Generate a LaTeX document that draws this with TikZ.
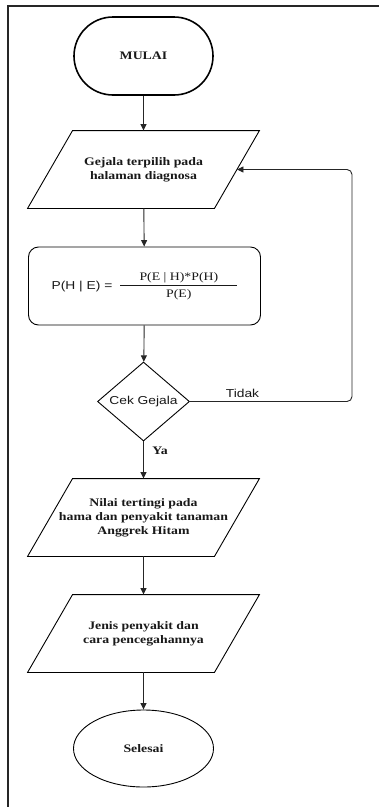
\documentclass[tikz,border=0pt]{standalone}
\usepackage{fontspec}
\setmainfont{Liberation Serif}[FakeStretch=1.2]
\newfontfamily\sansf{Liberation Sans}[FakeStretch=1.2]
\usetikzlibrary{shapes.geometric,arrows.meta}
\tikzset{
  base/.style={draw=black, line width=0.9pt, text=black!90, inner sep=0pt, align=center,
    font=\fontsize{11.5}{14}\selectfont\bfseries},
  terminal/.style={base, rectangle, rounded corners=39pt, minimum width=139pt, minimum height=78pt, line width=1.6pt},
  io/.style={base, draw=none, rectangle, minimum width=231pt, minimum height=77pt},
  ioline/.style={draw=black, line width=0.9pt, line join=miter},
  process/.style={base, rectangle, rounded corners=10pt, minimum width=232pt, minimum height=78pt,
    font=\fontsize{11.5}{14}\selectfont},
  decision/.style={base, diamond, minimum width=92pt, minimum height=77pt,
    font=\fontsize{11.5}{14}\selectfont\sansf},
  endnode/.style={base, ellipse, minimum width=140pt, minimum height=77pt},
  arrow/.style={draw=black!85, line width=0.9pt, -{Triangle[length=6.5pt,width=6pt]}},
  frameline/.style={draw=black!85, line width=2.2pt},
  lbl/.style={inner sep=0pt, text=black!90}
}
\begin{document}
\begin{tikzpicture}[x=1pt,y=-1pt]
\useasboundingbox (0,0) rectangle (379,807);
\fill[white] (0,0) rectangle (379,807);
% frame (only top and left edges visible)
\coordinate (ftl) at (8.3,6);
\coordinate (ftr) at (379,6);
\coordinate (fbl) at (8.3,807);
\draw[frameline] (ftr) -- (ftl) -- (fbl);

\node[terminal] (mulai) at (143.5,56) {MULAI};
\node[io] (gejala) at (143.5,169.5) {\fontsize{11.5}{16.5}\selectfont Gejala terpilih pada\\ halaman diagnosa};
\node[process] (rumus) at (144.5,286) {{\sansf P(H | E) =}\hspace{8pt}\begin{tabular}[c]{@{}c@{}}\makebox[117pt]{P(E | H)*P(H)}\\[0pt]\hline\rule{0pt}{12pt}P(E)\end{tabular}};
\node[decision] (cek) at (143.5,401.5) {Cek Gejala};
\node[io] (nilai) at (143.5,517.5) {Nilai tertingi pada\\ hama dan penyakit tanaman\\ Anggrek Hitam};
\node[io] (jenis) at (143.5,633.5) {Jenis penyakit dan\\ cara pencegahannya};
\node[endnode] (selesai) at (143.5,748.5) {Selesai};

% parallelogram outlines of the input/output nodes
\foreach \n in {gejala,nilai,jenis}{
  \draw[ioline] ([xshift=45pt]\n.north west) -- (\n.north east)
    -- ([xshift=-45pt]\n.south east) -- (\n.south west) -- cycle;
}

\draw[arrow] (mulai) -- (gejala);
\draw[arrow] (gejala) -- (rumus);
\draw[arrow] (rumus) -- (cek);
\draw[arrow] (cek) -- (nilai);
\draw[arrow] (nilai) -- (jenis);
\draw[arrow] (jenis) -- (selesai);

\coordinate (t1) at (352,401.5);
\coordinate (t2) at (352,169.5);
\draw[arrow, rounded corners=5pt] (cek.east) -- (t1) -- (t2) -- ([xshift=-22.5pt]gejala.east);

\node[lbl, font=\fontsize{11.5}{14}\selectfont\sansf] (tidak) at (242.5,393) {Tidak};
\node[lbl, font=\fontsize{11.5}{14}\selectfont\bfseries] (ya) at (160,451) {Ya};
\end{tikzpicture}
\end{document}
